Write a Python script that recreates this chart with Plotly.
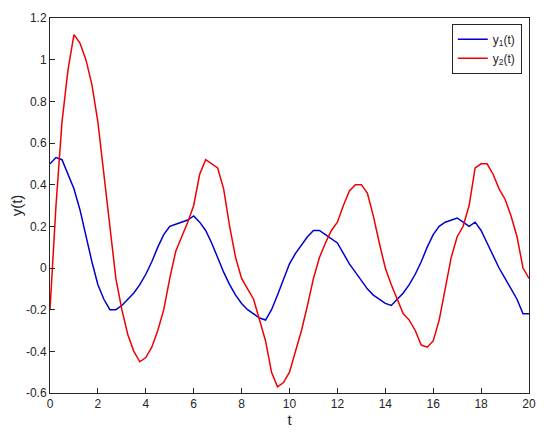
import plotly.graph_objects as go

t = [i * 0.25 for i in range(81)]
y1 = [0.50,0.53,0.52,0.45,0.38,0.28,0.15,0.03,-0.08,-0.15,-0.20,-0.20,-0.18,-0.15,-0.12,-0.08,-0.03,0.03,0.10,0.16,
      0.20,0.21,0.22,0.23,0.25,0.22,0.18,0.12,0.05,-0.02,-0.08,-0.13,-0.17,-0.20,-0.22,-0.24,-0.25,-0.20,-0.13,-0.05,
      0.02,0.07,0.11,0.15,0.18,0.18,0.16,0.14,0.12,0.07,0.02,-0.02,-0.06,-0.10,-0.13,-0.15,-0.17,-0.18,-0.15,-0.12,
      -0.08,-0.03,0.03,0.10,0.16,0.20,0.22,0.23,0.24,0.22,0.20,0.22,0.18,0.12,0.06,0.00,-0.05,-0.10,-0.15,-0.22,-0.22]
y2 = [-0.20,0.30,0.70,0.95,1.12,1.08,1.00,0.88,0.70,0.45,0.20,-0.05,-0.20,-0.32,-0.40,-0.45,-0.43,-0.38,-0.30,-0.20,
      -0.05,0.08,0.15,0.22,0.30,0.45,0.52,0.50,0.48,0.38,0.20,0.05,-0.05,-0.10,-0.15,-0.25,-0.35,-0.50,-0.57,-0.55,
      -0.50,-0.40,-0.30,-0.18,-0.05,0.05,0.12,0.18,0.22,0.30,0.37,0.40,0.40,0.36,0.25,0.12,0.00,-0.08,-0.15,-0.22,
      -0.25,-0.30,-0.37,-0.38,-0.35,-0.25,-0.10,0.05,0.15,0.20,0.30,0.48,0.50,0.50,0.45,0.38,0.33,0.25,0.15,0.00,-0.05]
y_ticks = [-0.6, -0.4, -0.2, 0, 0.2, 0.4, 0.6, 0.8, 1, 1.2]
y_labels = ["-0.6", "-0.4", "-0.2", "0", "0.2", "0.4", "0.6", "0.8", "1", "1.2"]

fig = go.Figure()
fig.add_trace(go.Scatter(x=t, y=y1, mode="lines", line=dict(color="#0000cc", width=1.5), name="y<sub>1</sub>(t)"))
fig.add_trace(go.Scatter(x=t, y=y2, mode="lines", line=dict(color="#ee0000", width=1.5), name="y<sub>2</sub>(t)"))
ax = dict(showgrid=False, zeroline=False, mirror=True, showline=True, linecolor="#262626", linewidth=1,
          ticks="inside", ticklen=5, tickcolor="#262626", tickfont=dict(size=12, color="#262626"), automargin=False)
fig.update_layout(
    width=550, height=439, margin=dict(l=42, r=29, t=10, b=54),
    plot_bgcolor="white", paper_bgcolor="white", font=dict(family="Liberation Sans, Arial", color="#262626"),
    xaxis=dict(range=[0, 20], dtick=2, title=dict(text="t", font=dict(size=15), standoff=4), **ax),
    yaxis=dict(range=[-0.6, 1.2], tickvals=y_ticks, ticktext=y_labels,
               title=dict(text="y(t)", font=dict(size=15), standoff=4), **ax),
    legend=dict(x=0.985, y=0.985, xanchor="right", yanchor="top", bordercolor="#262626", borderwidth=1,
                bgcolor="white", font=dict(size=12)),
)
fig.write_html("out.html")
